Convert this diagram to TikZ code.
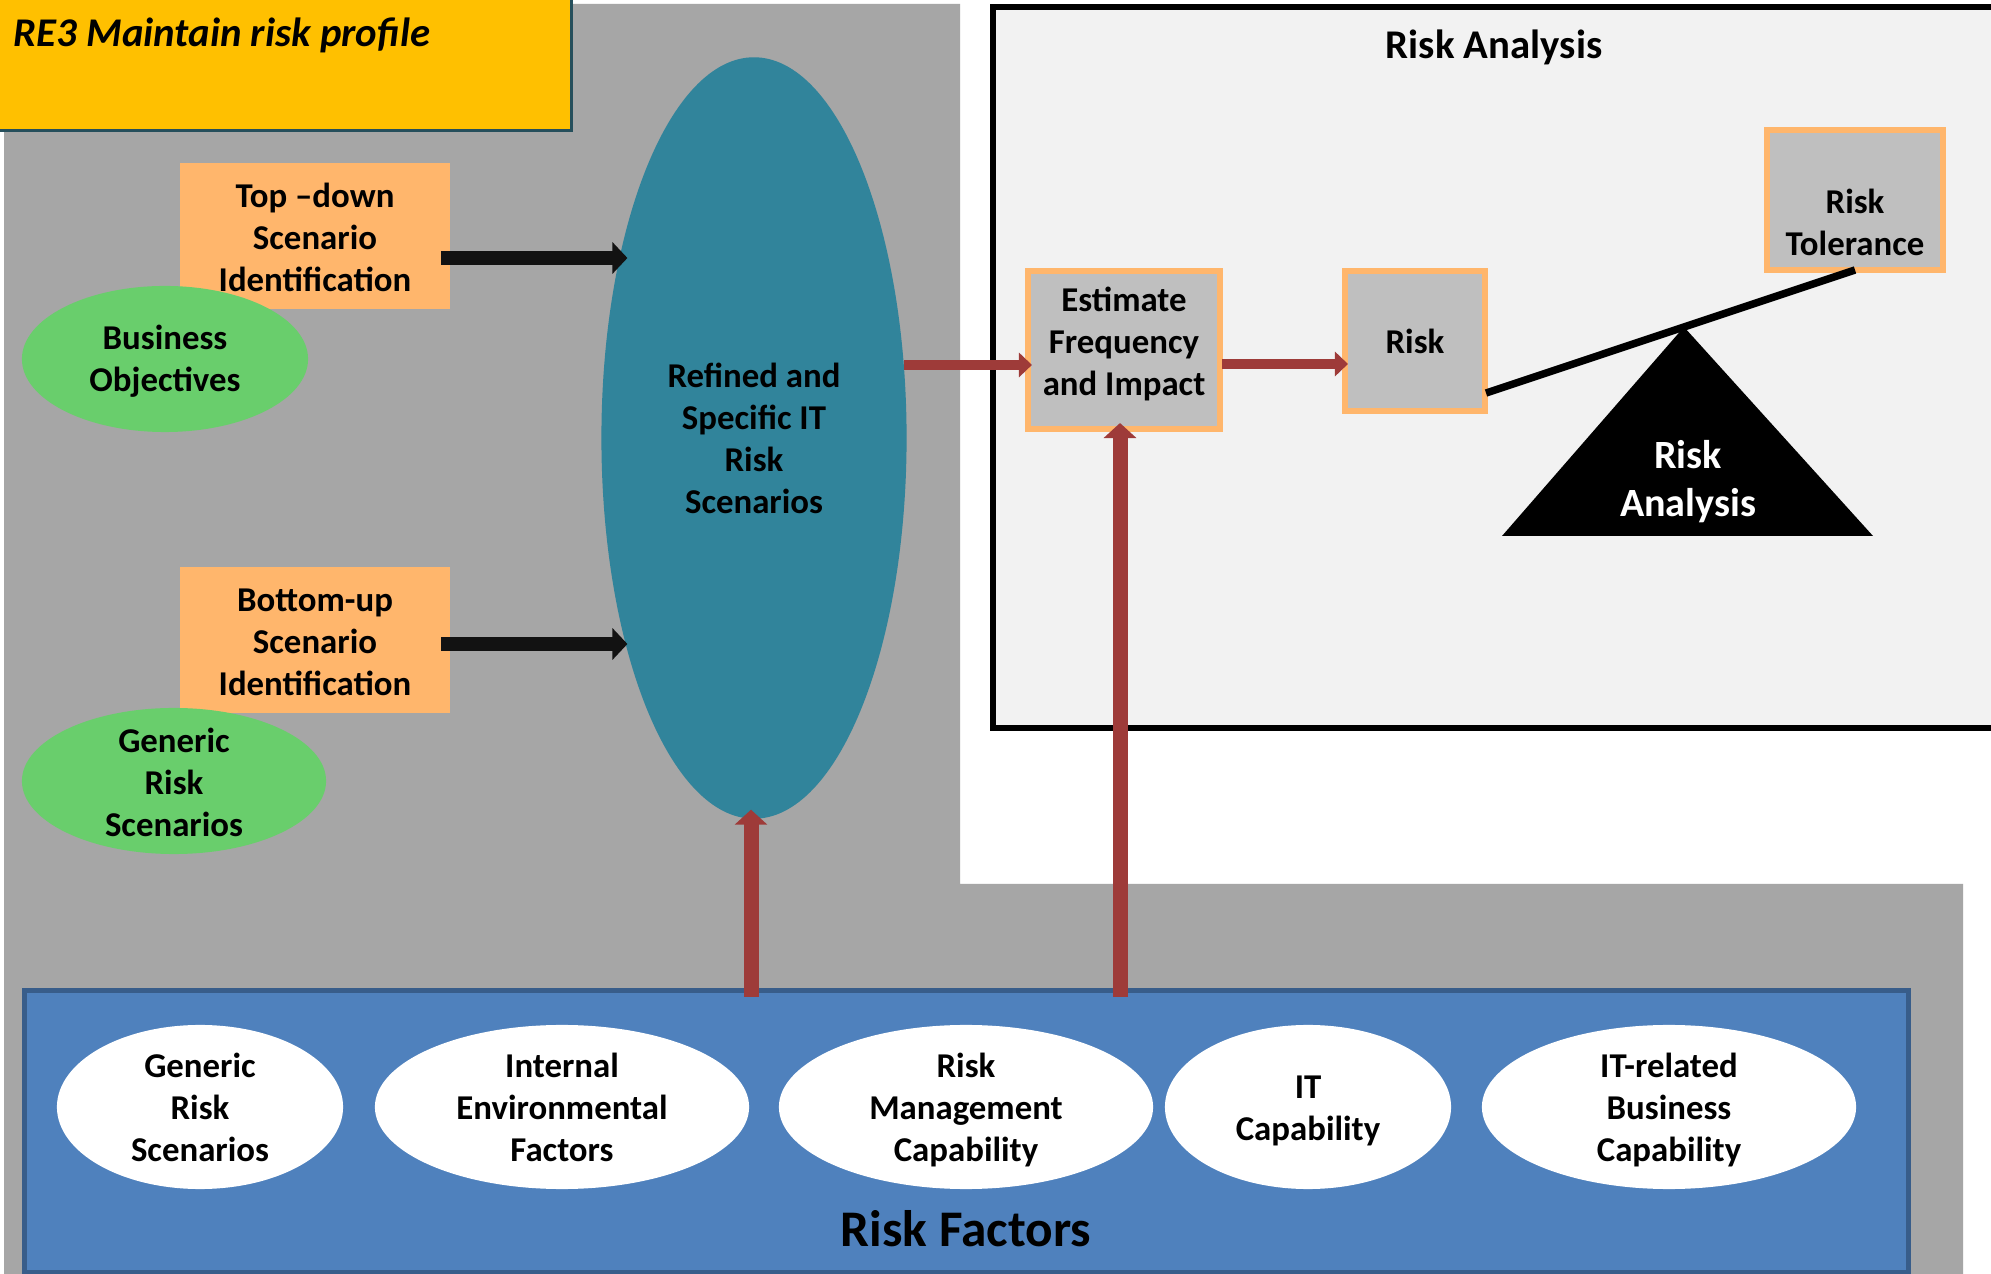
\documentclass[tikz,border=0pt]{standalone}
\usepackage{fontspec}
\setmainfont{Carlito}
\usetikzlibrary{arrows.meta,shapes.geometric,calc}

\definecolor{panelgray}{HTML}{A6A6A6}
\definecolor{boardgray}{HTML}{F2F2F2}
\definecolor{boxgray}{HTML}{BFBFBF}
\definecolor{peach}{HTML}{FFB66C}
\definecolor{scenteal}{HTML}{31849B}
\definecolor{arrowred}{HTML}{9E3B39}
\definecolor{factorblue}{HTML}{4F81BD}
\definecolor{factorrim}{HTML}{385D8A}
\definecolor{leafgreen}{HTML}{69CE6C}
\definecolor{titleyellow}{HTML}{FFC000}
\definecolor{titlerim}{HTML}{254F5C}

\tikzset{
  lbl/.style={font=\fontsize{9.9}{11.95}\selectfont\bfseries, align=center, inner sep=0pt},
  peachbox/.style={rectangle, fill=peach, inner sep=0pt, outer sep=0pt},
  graybox/.style={rectangle, draw=peach, line width=0.06cm, fill=boxgray, inner sep=0pt, outer sep=0pt},
  leaf/.style={ellipse, fill=leafgreen, inner sep=0pt, outer sep=0pt},
  factor/.style={ellipse, fill=white, minimum height=1.64cm, inner sep=0pt, outer sep=0pt},
  blackarrow/.style={line width=0.14cm, black!93, -{Triangle[length=0.15cm,width=0.31cm]}},
  redarrow/.style={line width=0.10cm, arrowred, -{Triangle[length=0.13cm,width=0.24cm]}},
  redup/.style={line width=0.15cm, arrowred, -{Triangle[length=0.15cm,width=0.32cm]}},
}

\begin{document}
\begin{tikzpicture}[x=0.01cm, y=-0.01cm]
\useasboundingbox (0,0) rectangle (1991,1274);
\fill[white] (0,0) rectangle (1991,1274);

% grey L-shaped panel behind the scenario side and the factor strip
\fill[panelgray] (4,4) -- (960,4) -- (960,884) -- (1963,884) -- (1963,1290) -- (4,1290) -- cycle;

% process title banner
\draw[titlerim, line width=0.03cm, fill=titleyellow] (-20,-20) rectangle (571,131);
\node[anchor=west, inner sep=0pt, font=\fontsize{11.6}{14}\selectfont\bfseries\itshape] (proc) at (13,35) {RE3 Maintain risk profile};

% risk analysis board
\draw[line width=0.06cm, fill=boardgray] (992.5,7) rectangle (2060,728);
\node[inner sep=0pt, font=\fontsize{11.6}{14}\selectfont\bfseries] (boardtitle) at (1494,47) {Risk Analysis};

% scenario identification
\node[peachbox, minimum width=2.70cm, minimum height=1.46cm,
      label={[lbl, yshift=-0.01cm]center:Top –down\\Scenario\\Identification}] (topdown) at (315,236) {};
\node[peachbox, minimum width=2.70cm, minimum height=1.46cm,
      label={[lbl, yshift=-0.02cm]center:Bottom-up\\Scenario\\Identification}] (bottomup) at (315,640) {};
\node[leaf, minimum width=2.86cm, minimum height=1.46cm,
      label={[lbl, yshift=-0.02cm]center:Business\\Objectives}] (busobj) at (165,359) {};
\node[leaf, minimum width=3.04cm, minimum height=1.46cm,
      label={[lbl, yshift=-0.01cm]center:Generic\\Risk\\Scenarios}] (genrisk) at (174,781) {};

% refined scenarios
\node[ellipse, fill=scenteal, minimum width=3.05cm, minimum height=7.61cm, inner sep=0pt, outer sep=0pt,
      label={[lbl]center:Refined and\\Specific IT\\Risk\\Scenarios}] (scen) at (754,438) {};

% risk factor strip
\node[rectangle, draw=factorrim, line width=0.05cm, fill=factorblue, minimum width=18.82cm,
      minimum height=2.81cm, inner sep=0pt, outer sep=0pt] (factors) at (966.5,1131.5) {};
\node[factor, minimum width=2.86cm, label={[lbl]center:Generic\\Risk\\Scenarios}] (f1) at (200,1107) {};
\node[factor, minimum width=3.74cm, label={[lbl]center:Internal\\Environmental\\Factors}] (f2) at (562,1107) {};
\node[factor, minimum width=3.74cm, label={[lbl, yshift=-0.03cm]center:Risk\\Management\\Capability}] (f3) at (966,1107) {};
\node[factor, minimum width=2.86cm, label={[lbl, yshift=-0.04cm]center:IT\\Capability}] (f4) at (1308,1107) {};
\node[factor, minimum width=3.74cm, label={[lbl, yshift=-0.03cm]center:IT-related\\Business\\Capability}] (f5) at (1669,1107) {};
\node[inner sep=0pt, font=\fontsize{14.6}{17}\selectfont\bfseries] (factlbl) at (966,1229) {Risk Factors};

% analysis chain
\node[graybox, minimum width=1.92cm, minimum height=1.58cm,
      label={[lbl, yshift=0.06cm]center:Estimate\\Frequency\\and Impact}] (est) at (1124,350) {};
\node[graybox, minimum width=1.40cm, minimum height=1.40cm,
      label={[lbl]center:Risk}] (risk) at (1415,341) {};
\node[graybox, minimum width=1.76cm, minimum height=1.40cm,
      label={[lbl, yshift=-0.22cm]center:Risk\\Tolerance}] (tol) at (1855,200) {};

% balance: fulcrum and beam
\fill (1684,327) -- (1502,536) -- (1873,536) -- cycle;
\node[inner sep=0pt, text=white, align=center, font=\fontsize{11.4}{13.66}\selectfont\bfseries] (fulcrum) at (1688,482) {Risk\\Analysis};
\draw[line width=0.075cm] ([shift={(0.01cm,0.18cm)}]risk.south east) -- (tol.south);

% connectors
\draw[blackarrow, shorten <=-0.09cm, shorten >=-0.26cm] ([yshift=-0.22cm]topdown.east) -- ([yshift=-0.22cm]topdown.east -| scen.west);
\draw[blackarrow, shorten <=-0.09cm, shorten >=-0.26cm] ([yshift=-0.04cm]bottomup.east) -- ([yshift=-0.04cm]bottomup.east -| scen.west);
\draw[redarrow, shorten >=-0.04cm] (scen.26) -- (scen.26 -| est.west);
\draw[redarrow, shorten <=0.02cm, shorten >=-0.03cm] ([yshift=-0.14cm]est.east) -- ([yshift=-0.14cm]est.east -| risk.west);
\draw[redup, shorten <=-0.06cm, shorten >=-0.09cm] ([xshift=-0.03cm]scen.south |- factors.north) -- ([xshift=-0.03cm]scen.south);
\draw[redup, shorten <=-0.06cm, shorten >=-0.06cm] ([xshift=-0.04cm]est.south |- factors.north) -- ([xshift=-0.04cm]est.south);
\end{tikzpicture}
\end{document}
